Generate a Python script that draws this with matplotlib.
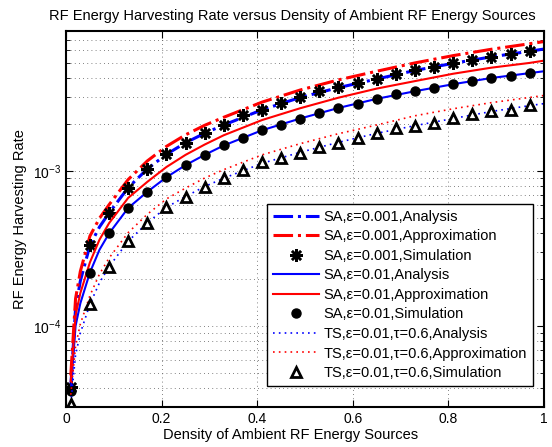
import numpy as np
import matplotlib.pyplot as plt
from matplotlib.ticker import NullFormatter

plt.rcParams['font.family'] = ['Liberation Sans', 'DejaVu Sans']
plt.rcParams['mathtext.fontset'] = 'custom'
plt.rcParams['mathtext.rm'] = 'Liberation Sans'
plt.rcParams['mathtext.it'] = 'Liberation Sans:italic'

# simulation points
x_sim = [0.01, 0.05, 0.09, 0.13, 0.17, 0.21, 0.25, 0.29, 0.33, 0.37, 0.41, 0.45, 0.49,
         0.53, 0.57, 0.61, 0.65, 0.69, 0.73, 0.77, 0.81, 0.85, 0.89, 0.93, 0.97]
sa_001_sim = [4.05e-5, 3.31e-4, 5.32e-4, 7.75e-4, 1.03e-3, 1.28e-3, 1.51e-3, 1.75e-3, 1.97e-3,
              2.28e-3, 2.49e-3, 2.74e-3, 2.99e-3, 3.28e-3, 3.47e-3, 3.72e-3, 3.93e-3, 4.23e-3,
              4.49e-3, 4.71e-3, 4.95e-3, 5.18e-3, 5.46e-3, 5.68e-3, 5.90e-3]
sa_01_sim = [3.8e-5, 2.21e-4, 3.95e-4, 5.77e-4, 7.33e-4, 9.11e-4, 1.09e-3, 1.27e-3, 1.46e-3,
             1.64e-3, 1.83e-3, 1.99e-3, 2.18e-3, 2.36e-3, 2.55e-3, 2.72e-3, 2.92e-3, 3.12e-3,
             3.27e-3, 3.44e-3, 3.62e-3, 3.79e-3, 3.98e-3, 4.12e-3, 4.28e-3]
ts_sim = [3.16e-5, 1.38e-4, 2.41e-4, 3.52e-4, 4.62e-4, 5.82e-4, 6.84e-4, 7.93e-4, 8.98e-4,
          1.01e-3, 1.14e-3, 1.22e-3, 1.31e-3, 1.42e-3, 1.52e-3, 1.64e-3, 1.76e-3, 1.88e-3,
          1.94e-3, 2.05e-3, 2.20e-3, 2.32e-3, 2.44e-3, 2.49e-3, 2.65e-3]

# analysis / approximation curves
x_line = [0.01, 0.02, 0.03, 0.05, 0.07, 0.09, 0.13, 0.17, 0.21, 0.25, 0.29, 0.33, 0.41,
          0.49, 0.57, 0.65, 0.73, 0.81, 0.89, 0.97, 1.0]
sa_001_ana = [4.05e-5, 1.3e-4, 1.95e-4, 3.3e-4, 4.35e-4, 5.35e-4, 7.8e-4, 1.03e-3, 1.28e-3,
              1.52e-3, 1.75e-3, 1.98e-3, 2.48e-3, 2.98e-3, 3.45e-3, 3.92e-3, 4.45e-3, 4.95e-3,
              5.45e-3, 5.92e-3, 6.12e-3]
sa_001_app = [4.8e-5, 1.5e-4, 2.25e-4, 3.8e-4, 4.95e-4, 6.05e-4, 8.8e-4, 1.16e-3, 1.44e-3,
              1.71e-3, 1.97e-3, 2.22e-3, 2.78e-3, 3.33e-3, 3.87e-3, 4.4e-3, 4.98e-3, 5.55e-3,
              6.1e-3, 6.62e-3, 6.84e-3]
sa_01_ana = [3.8e-5, 1.0e-4, 1.4e-4, 2.21e-4, 3.1e-4, 3.95e-4, 5.77e-4, 7.33e-4, 9.11e-4,
             1.09e-3, 1.27e-3, 1.46e-3, 1.83e-3, 2.18e-3, 2.55e-3, 2.92e-3, 3.27e-3, 3.63e-3,
             3.98e-3, 4.28e-3, 4.40e-3]
sa_01_app = [4.4e-5, 1.17e-4, 1.63e-4, 2.57e-4, 3.6e-4, 4.6e-4, 6.7e-4, 8.5e-4, 1.06e-3,
             1.27e-3, 1.48e-3, 1.70e-3, 2.13e-3, 2.54e-3, 2.97e-3, 3.40e-3, 3.80e-3, 4.24e-3,
             4.64e-3, 4.98e-3, 5.15e-3]
ts_ana = [3.16e-5, 6.5e-5, 9.0e-5, 1.38e-4, 1.9e-4, 2.41e-4, 3.52e-4, 4.62e-4, 5.82e-4,
          6.84e-4, 7.93e-4, 8.98e-4, 1.12e-3, 1.32e-3, 1.53e-3, 1.75e-3, 1.96e-3, 2.18e-3,
          2.42e-3, 2.64e-3, 2.72e-3]
ts_app = [3.6e-5, 7.4e-5, 1.03e-4, 1.57e-4, 2.16e-4, 2.74e-4, 4.0e-4, 5.25e-4, 6.6e-4,
          7.75e-4, 9.0e-4, 1.02e-3, 1.27e-3, 1.50e-3, 1.74e-3, 1.98e-3, 2.27e-3, 2.52e-3,
          2.76e-3, 2.98e-3, 3.07e-3]

fig = plt.figure(figsize=(5.52, 4.47), dpi=100)
ax = fig.add_axes([66/552, 40/447, 478/552, 376/447])

ax.plot(x_line, sa_001_ana, color='b', ls='-.', lw=2.2, label='SA,ε=0.001,Analysis')
ax.plot(x_line, sa_001_app, color='r', ls='-.', lw=2.2, label='SA,ε=0.001,Approximation')
ax.plot(x_sim, sa_001_sim, ls='none', marker=(8, 2, 0), ms=9, mew=1.8, color='k',
        label='SA,ε=0.001,Simulation')
ax.plot(x_line, sa_01_ana, color='b', ls='-', lw=1.5, label='SA,ε=0.01,Analysis')
ax.plot(x_line, sa_01_app, color='r', ls='-', lw=1.5, label='SA,ε=0.01,Approximation')
ax.plot(x_sim, sa_01_sim, ls='none', marker='o', ms=6.5, color='k', label='SA,ε=0.01,Simulation')
ax.plot(x_line, ts_ana, color='b', ls=(0, (1, 2.5)), lw=1.2, label='TS,ε=0.01,τ=0.6,Analysis')
ax.plot(x_line, ts_app, color='r', ls=(0, (1, 2.5)), lw=1.2, label='TS,ε=0.01,τ=0.6,Approximation')
ax.plot(x_sim, ts_sim, ls='none', marker='^', ms=7.5, mew=2, mfc='white', mec='k',
        label='TS,ε=0.01,τ=0.6,Simulation')

ax.set_yscale('log')
ax.set_xlim(0, 1)
ax.set_ylim(3e-5, 8e-3)
ax.set_xticks([0, 0.2, 0.4, 0.6, 0.8, 1])
ax.set_xticklabels(['0', '0.2', '0.4', '0.6', '0.8', '1'])
ax.yaxis.set_minor_formatter(NullFormatter())

ax.grid(True, which='major', axis='x', ls=(0, (1, 4)), color='0.35', lw=0.6)
ax.grid(True, which='both', axis='y', ls=(0, (1, 4)), color='0.35', lw=0.6)
ax.tick_params(which='both', direction='in', top=True, right=True, labelsize=10)
ax.tick_params(which='major', length=5)
ax.tick_params(which='minor', length=3)
for s in ax.spines.values():
    s.set_linewidth(1.5)

ax.set_title('RF Energy Harvesting Rate versus Density of Ambient RF Energy Sources',
             fontsize=10.5, x=0.473, pad=8)
ax.set_xlabel('Density of Ambient RF Energy Sources', fontsize=10.5, labelpad=1)
ax.xaxis.set_label_coords(0.469, -0.055)
ax.set_ylabel('RF Energy Harvesting Rate', fontsize=10.5)

leg = ax.legend(loc='lower right', bbox_to_anchor=(0.977, 0.056), fontsize=10.5,
                handlelength=3.2, handletextpad=0.3, labelspacing=0.38, borderpad=0.4,
                fancybox=False, framealpha=1, edgecolor='k', borderaxespad=0)
leg.get_frame().set_linewidth(1.0)

plt.savefig('out.png', dpi=100)
